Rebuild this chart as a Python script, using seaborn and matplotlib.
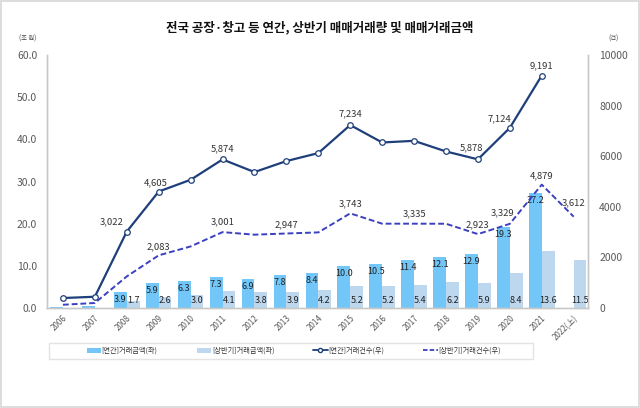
import numpy as np
import pandas as pd
import matplotlib.pyplot as plt
import seaborn as sns
from matplotlib.lines import Line2D
from matplotlib.patches import Patch, Rectangle

years = ["2006", "2007", "2008", "2009", "2010", "2011", "2012", "2013", "2014",
         "2015", "2016", "2017", "2018", "2019", "2020", "2021", "2022(上)"]

# 거래금액 (조 원, 좌축)
annual_amt = [0.3, 0.4, 3.9, 5.9, 6.3, 7.3, 6.9, 7.8, 8.4,
              10.0, 10.5, 11.4, 12.1, 12.9, 19.3, 27.2, np.nan]
half_amt = [0.05, 0.1, 1.7, 2.6, 3.0, 4.1, 3.8, 3.9, 4.2,
            5.2, 5.2, 5.4, 6.2, 5.9, 8.4, 13.6, 11.5]

# 거래건수 (건, 우축)
annual_cnt = [395, 447, 3022, 4605, 5070, 5874, 5375, 5810, 6125,
              7234, 6545, 6610, 6190, 5878, 7124, 9191, np.nan]
half_cnt = [130, 200, 1250, 2083, 2435, 3001, 2900, 2947, 2990,
            3743, 3335, 3335, 3332, 2923, 3329, 4879, 3612]

series_names = ["[연간]거래금액(좌)", "[상반기]거래금액(좌)", "[연간]거래건수(우)", "[상반기]거래건수(우)"]

# which count labels are shown, with label offsets (pixels)
annual_lbl = {2: (-15, 10), 3: (-3, 9), 5: (0, 11), 9: (0, 11), 13: (-6, 12), 14: (-10, 9), 15: (0, 10)}
half_lbl = {3: (0, 9), 5: (0, 10), 7: (0, 9), 9: (0, 10), 11: (0, 10), 13: (0, 9),
            14: (-7, 11), 15: (0, 9), 16: (0, 14)}

c_annual_bar = "#72C6F8"
c_half_bar = "#BDD7EE"
c_annual_line = "#1F3F7A"
c_half_line = "#3A40C0"
tick_color = "#595959"

sns.set_style("white")
plt.rcParams["font.family"] = ["Noto Sans CJK KR", "DejaVu Sans"]

df = pd.DataFrame({
    "year": years * 2,
    "amount": annual_amt + half_amt,
    "kind": [series_names[0]] * len(years) + [series_names[1]] * len(years),
})

fig = plt.figure(figsize=(6.4, 4.08), dpi=100)
fig.patch.set_edgecolor("#dcdcdc")
fig.patch.set_linewidth(1.5)
ax = fig.add_axes([0.0734, 0.245, 0.8454, 0.62])

sns.barplot(data=df, x="year", y="amount", hue="kind", order=years,
            palette=[c_annual_bar, c_half_bar], width=0.8, ax=ax, legend=False,
            linewidth=0, saturation=1)

ax.set_ylim(0, 60)
ax.set_yticks(np.arange(0, 61, 10))
ax.set_yticklabels([f"{v:.1f}" for v in np.arange(0, 61, 10)])
ax.set_xlim(-0.5, 16.45)
ax.set_xlabel("")
ax.set_ylabel("")

# bar value labels
for i in range(2, len(years)):
    a = annual_amt[i]
    if not np.isnan(a):
        ax.annotate(f"{a:.1f}", (i - 0.2, a), xytext=(0, -3), textcoords="offset pixels",
                    ha="center", va="top", fontsize=6.5, color="#222222")
    ax.annotate(f"{half_amt[i]:.1f}", (i + 0.2, 0), xytext=(0, 3), textcoords="offset pixels",
                ha="center", va="bottom", fontsize=6.5, color="#222222")

ax2 = ax.twinx()
x_idx = np.arange(len(years))
sns.lineplot(x=x_idx, y=annual_cnt, ax=ax2, color=c_annual_line, linewidth=1.6,
             marker="o", markersize=4, markerfacecolor="white",
             markeredgecolor=c_annual_line, markeredgewidth=0.9)
sns.lineplot(x=x_idx, y=half_cnt, ax=ax2, color=c_half_line, linewidth=1.4,
             linestyle=(0, (3, 1.5)))
ax2.set_ylim(0, 10000)
ax2.set_yticks(np.arange(0, 10001, 2000))
ax2.set_xlim(-0.5, 16.45)

for i, (dx, dy) in annual_lbl.items():
    ax2.annotate(f"{int(annual_cnt[i]):,}", (i, annual_cnt[i]), xytext=(dx, dy),
                 textcoords="offset pixels", ha="center", va="center", fontsize=6.8, color="#333333")
for i, (dx, dy) in half_lbl.items():
    ax2.annotate(f"{int(half_cnt[i]):,}", (i, half_cnt[i]), xytext=(dx, dy),
                 textcoords="offset pixels", ha="center", va="center", fontsize=6.8, color="#333333")

for a in (ax, ax2):
    a.spines["top"].set_visible(False)
    for s in ("left", "right", "bottom"):
        a.spines[s].set_color("#c8c8c8")
        a.spines[s].set_linewidth(1)
    a.tick_params(axis="both", length=0, colors=tick_color, labelsize=7.5)
    a.grid(False)
ax.tick_params(axis="y", pad=7)
ax2.tick_params(axis="y", pad=8)

ax.set_xticks(x_idx)
ax.set_xticklabels(years, rotation=45, ha="right", rotation_mode="anchor",
                   fontsize=5.8, color=tick_color)
ax.tick_params(axis="x", pad=4)

fig.text(0.5, 0.933, "전국 공장·창고 등 연간, 상반기 매매거래량 및 매매거래금액",
         ha="center", va="center", fontsize=9, fontweight="bold", color="#111111")
fig.text(0.043, 0.905, "(조 원)", ha="center", va="center", fontsize=4.5, color="#444444")
fig.text(0.958, 0.905, "(건)", ha="center", va="center", fontsize=4.5, color="#444444")

# legend box (wide and flat, as in the original)
fig.add_artist(Rectangle((0.0766, 0.120), 0.756, 0.040, transform=fig.transFigure,
                         facecolor="white", edgecolor="#e3e3e3", linewidth=1))

handles = [
    Patch(facecolor=c_annual_bar, edgecolor="none"),
    Patch(facecolor=c_half_bar, edgecolor="none"),
    Line2D([], [], color=c_annual_line, lw=1.3, marker="o", markersize=3,
           markerfacecolor="white", markeredgecolor=c_annual_line),
    Line2D([], [], color=c_half_line, lw=1.3, linestyle=(0, (2.5, 1.2))),
]
leg = fig.legend(handles, series_names, loc="center", bbox_to_anchor=(0.459, 0.140),
                 ncol=4, fontsize=5.2, frameon=False, handlelength=2.0,
                 handleheight=0.6, handletextpad=0.1, columnspacing=5.4,
                 borderaxespad=0, labelcolor="#333333")

fig.savefig("out.png", dpi=100)
